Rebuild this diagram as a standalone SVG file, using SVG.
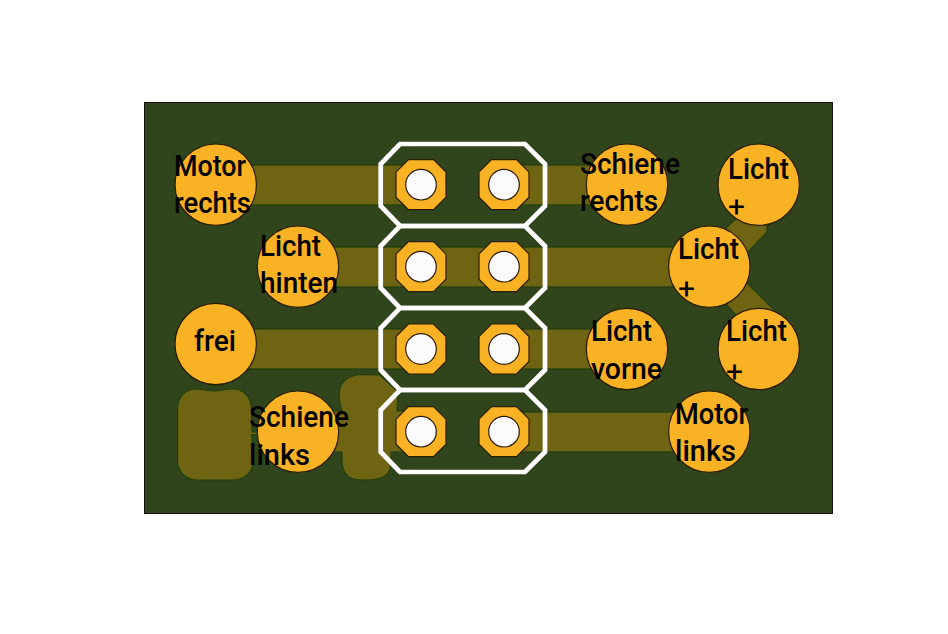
<svg xmlns="http://www.w3.org/2000/svg" width="948" height="634" viewBox="0 0 948 634">
<style>
.trace{fill:#6f6412;stroke:#1f3f0e;stroke-width:1.2}
.pad{fill:#f9b223;stroke:#2a1c05;stroke-width:1.2}
.hole{fill:#fbfbfd;stroke:#2a1c05;stroke-width:1.2}
.silk{fill:none;stroke:#fff;stroke-width:4.7}
text{font-family:"Roboto","Noto Sans",sans-serif;font-size:30px;font-weight:500;fill:#000}
.plus{font-weight:400}
</style>
<defs>
<g id="thp"><polygon class="pad" points="-12.500,-25 12.500,-25 25,-12.500 25,12.500 12.500,25 -12.500,25 -25,12.500 -25,-12.500"/><circle class="hole" r="15.300"/></g>
<polygon id="frame" class="silk" points="400,144 525,144 545,164 545,206 525,226 400,226 380.700,206 380.700,164"/>
</defs>
<rect width="948" height="634" fill="#fff"/>
<rect id="board" x="144.500" y="102.500" width="688" height="411" fill="#30451b" stroke="#111" stroke-width="1"/>
<g id="connectors">
<rect class="trace" x="215" y="165" width="206" height="40"/>
<rect class="trace" x="298" y="247" width="206" height="40"/>
<rect class="trace" x="215" y="329" width="206" height="40"/>
<rect class="trace" x="504" y="165" width="123" height="40"/>
<rect class="trace" x="504" y="247" width="205" height="40"/>
<rect class="trace" x="504" y="329" width="123" height="40"/>
<rect class="trace" x="504" y="412" width="205" height="40"/>
<path class="trace" d="M298,411L342,411C338,400 338,388 343,382C348,376 355,375 362,374.500L380,375L398,392L397,411L421,411L421,452L391,452C391,460 392,468 388,473C383,479 375,480 367,480C358,480 350,480 346,474C341,468 342,460 342,452L298,452Z"/>
<path class="trace" d="M177.500,409C177.500,396 186,389 197,389C203,389 208,391 214,391C220,391 226,389 232,389C244,389 251.500,397 251.500,409L252,432L258,432L258,434.500L252,434.500L253,462C253,473 244,480 232,480L197,480C186,480 177.500,472 177.500,460Z"/>
<path class="trace" d="M726,228L745,210L767,224L767,232L748,252L720,250Z"/>
<path class="trace" d="M747,283L775,311L745,325L726,304Z"/>
</g>
<g id="n1"><circle class="pad" cx="215.700" cy="184.700" r="40.700"/><text x="174" y="176" textLength="72" lengthAdjust="spacingAndGlyphs">Motor</text><text x="174" y="213" textLength="77" lengthAdjust="spacingAndGlyphs">rechts</text></g>
<g id="n2"><circle class="pad" cx="298" cy="266.700" r="40.700"/><text x="260" y="256" textLength="61" lengthAdjust="spacingAndGlyphs">Licht</text><text x="260" y="293" textLength="78" lengthAdjust="spacingAndGlyphs">hinten</text></g>
<g id="n3"><circle class="pad" cx="215.700" cy="344" r="40.700"/><text x="194" y="351" textLength="42" lengthAdjust="spacingAndGlyphs">frei</text></g>
<g id="n4"><circle class="pad" cx="298" cy="431.700" r="40.700"/><text x="249" y="427" textLength="100" lengthAdjust="spacingAndGlyphs">Schiene</text><text x="249" y="465" textLength="61" lengthAdjust="spacingAndGlyphs">links</text></g>
<g id="n5"><circle class="pad" cx="627" cy="184.700" r="40.700"/><text x="580" y="174" textLength="100" lengthAdjust="spacingAndGlyphs">Schiene</text><text x="580" y="211" textLength="78" lengthAdjust="spacingAndGlyphs">rechts</text></g>
<g id="n6"><circle class="pad" cx="758.700" cy="184.700" r="40.700"/><text x="728" y="179" textLength="61" lengthAdjust="spacingAndGlyphs">Licht</text><text class="plus" x="728" y="217" textLength="17" lengthAdjust="spacingAndGlyphs">+</text></g>
<g id="n7"><circle class="pad" cx="709.300" cy="266.700" r="40.700"/><text x="678" y="259" textLength="61" lengthAdjust="spacingAndGlyphs">Licht</text><text class="plus" x="678" y="299" textLength="17" lengthAdjust="spacingAndGlyphs">+</text></g>
<g id="n8"><circle class="pad" cx="627" cy="349" r="40.700"/><text x="591" y="341" textLength="61" lengthAdjust="spacingAndGlyphs">Licht</text><text x="591" y="379" textLength="71" lengthAdjust="spacingAndGlyphs">vorne</text></g>
<g id="n9"><circle class="pad" cx="758.700" cy="349" r="40.700"/><text x="726" y="341" textLength="61" lengthAdjust="spacingAndGlyphs">Licht</text><text class="plus" x="726" y="382" textLength="17" lengthAdjust="spacingAndGlyphs">+</text></g>
<g id="n10"><circle class="pad" cx="709.300" cy="431.700" r="40.700"/><text x="675" y="424" textLength="73" lengthAdjust="spacingAndGlyphs">Motor</text><text x="675" y="461" textLength="61" lengthAdjust="spacingAndGlyphs">links</text></g>
<g id="header1"><use href="#thp" x="421" y="184.700"/><use href="#thp" x="504" y="184.700"/><use href="#frame"/></g>
<g id="header2"><use href="#thp" x="421" y="266.700"/><use href="#thp" x="504" y="266.700"/><use href="#frame" y="82"/></g>
<g id="header3"><use href="#thp" x="421" y="349"/><use href="#thp" x="504" y="349"/><use href="#frame" y="164"/></g>
<g id="header4"><use href="#thp" x="421" y="431.700"/><use href="#thp" x="504" y="431.700"/><use href="#frame" y="246"/></g>
</svg>
